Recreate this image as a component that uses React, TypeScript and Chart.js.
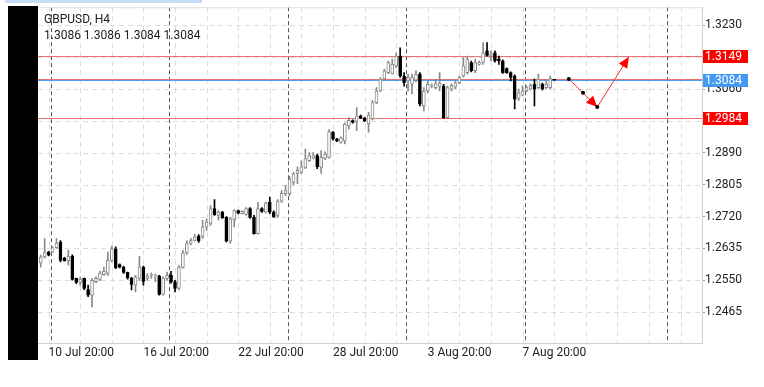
import React, { useEffect, useRef } from 'react';
import { Chart, registerables } from 'chart.js';

Chart.register(...registerables);

const symbolTitle = 'GBPUSD, H4';
const ohlcText = '1.3086 1.3086 1.3084 1.3084';

// H4 candles, index 0 = 10 Jul 12:00
const opens = [
  1.2596, 1.2612, 1.2625, 1.2625, 1.2637, 1.2652, 1.2609, 1.2602, 1.2614, 1.2555,
  1.2544, 1.2555, 1.2525, 1.2510, 1.2546, 1.2552, 1.2565, 1.2568, 1.2603, 1.2634,
  1.2592, 1.2585, 1.2571, 1.2556, 1.2537, 1.2555, 1.2585, 1.2555, 1.2563, 1.2562,
  1.2562, 1.2512, 1.2555, 1.2563, 1.2546, 1.2528, 1.2584, 1.2623, 1.2648, 1.2656,
  1.2668, 1.2667, 1.2692, 1.2702, 1.2741, 1.2723, 1.2731, 1.2718, 1.2654, 1.2712,
  1.2736, 1.2728, 1.2726, 1.2741, 1.2718, 1.2674, 1.2741, 1.2732, 1.2758, 1.2732,
  1.2723, 1.2761, 1.2781, 1.2781, 1.2811, 1.2835, 1.2838, 1.2851, 1.2869, 1.2876,
  1.2883, 1.2851, 1.2875, 1.2878, 1.2945, 1.2927, 1.2918, 1.2922, 1.2962, 1.2976,
  1.2974, 1.2989, 1.2983, 1.2968, 1.2980, 1.3024, 1.3055, 1.3087, 1.3104, 1.3101,
  1.3122, 1.3148, 1.3095, 1.3082, 1.3073, 1.3084, 1.3100, 1.3015, 1.3055, 1.3068,
  1.3064, 1.3068, 1.3068, 1.2984, 1.3060, 1.3066, 1.3077, 1.3095, 1.3104, 1.3131,
  1.3109, 1.3126, 1.3131, 1.3162, 1.3148, 1.3157, 1.3140, 1.3135, 1.3115, 1.3104,
  1.3095, 1.3035, 1.3044, 1.3055, 1.3060, 1.3073, 1.3064, 1.3073, 1.3064, 1.3064,
  1.3086,
];
const highs = [
  1.2617, 1.2661, 1.2627, 1.2639, 1.2661, 1.2656, 1.2611, 1.2630, 1.2618, 1.2556,
  1.2559, 1.2556, 1.2537, 1.2555, 1.2559, 1.2574, 1.2585, 1.2625, 1.2641, 1.2639,
  1.2594, 1.2588, 1.2572, 1.2558, 1.2563, 1.2614, 1.2588, 1.2568, 1.2570, 1.2567,
  1.2563, 1.2559, 1.2572, 1.2574, 1.2550, 1.2590, 1.2630, 1.2655, 1.2662, 1.2672,
  1.2672, 1.2710, 1.2714, 1.2749, 1.2765, 1.2736, 1.2734, 1.2720, 1.2718, 1.2738,
  1.2737, 1.2736, 1.2744, 1.2744, 1.2723, 1.2758, 1.2744, 1.2759, 1.2772, 1.2735,
  1.2765, 1.2789, 1.2803, 1.2827, 1.2838, 1.2853, 1.2869, 1.2900, 1.2891, 1.2891,
  1.2887, 1.2896, 1.2893, 1.2952, 1.2947, 1.2929, 1.2933, 1.2970, 1.2984, 1.2978,
  1.3011, 1.2991, 1.2985, 1.2998, 1.3030, 1.3064, 1.3091, 1.3113, 1.3135, 1.3140,
  1.3157, 1.3170, 1.3104, 1.3100, 1.3100, 1.3109, 1.3104, 1.3064, 1.3082, 1.3074,
  1.3086, 1.3104, 1.3073, 1.3068, 1.3074, 1.3082, 1.3095, 1.3144, 1.3148, 1.3135,
  1.3140, 1.3135, 1.3184, 1.3184, 1.3162, 1.3162, 1.3148, 1.3138, 1.3117, 1.3106,
  1.3098, 1.3060, 1.3069, 1.3068, 1.3074, 1.3087, 1.3100, 1.3076, 1.3086, 1.3095,
  1.3086,
];
const lows = [
  1.2585, 1.2609, 1.2615, 1.2624, 1.2635, 1.2599, 1.2601, 1.2590, 1.2550, 1.2541,
  1.2537, 1.2525, 1.2506, 1.2479, 1.2543, 1.2549, 1.2563, 1.2563, 1.2599, 1.2581,
  1.2583, 1.2568, 1.2553, 1.2524, 1.2519, 1.2550, 1.2537, 1.2550, 1.2555, 1.2546,
  1.2510, 1.2510, 1.2550, 1.2542, 1.2519, 1.2524, 1.2582, 1.2619, 1.2644, 1.2654,
  1.2651, 1.2661, 1.2683, 1.2696, 1.2723, 1.2711, 1.2715, 1.2652, 1.2648, 1.2692,
  1.2727, 1.2727, 1.2723, 1.2715, 1.2673, 1.2673, 1.2731, 1.2730, 1.2728, 1.2718,
  1.2718, 1.2758, 1.2776, 1.2776, 1.2805, 1.2808, 1.2834, 1.2848, 1.2867, 1.2874,
  1.2848, 1.2835, 1.2872, 1.2876, 1.2924, 1.2920, 1.2916, 1.2914, 1.2953, 1.2969,
  1.2949, 1.2981, 1.2973, 1.2945, 1.2978, 1.3021, 1.3053, 1.3084, 1.3101, 1.3100,
  1.3117, 1.3091, 1.3068, 1.3055, 1.3047, 1.3079, 1.3015, 1.3002, 1.3050, 1.3063,
  1.3061, 1.3055, 1.2982, 1.2982, 1.3055, 1.3061, 1.3074, 1.3092, 1.3100, 1.3106,
  1.3104, 1.3124, 1.3126, 1.3148, 1.3135, 1.3132, 1.3126, 1.3102, 1.3102, 1.3082,
  1.3007, 1.3029, 1.3042, 1.3053, 1.3058, 1.3015, 1.3061, 1.3058, 1.3061, 1.3060,
  1.3084,
];
const closes = [
  1.2612, 1.2624, 1.2617, 1.2637, 1.2649, 1.2603, 1.2602, 1.2614, 1.2552, 1.2544,
  1.2553, 1.2528, 1.2510, 1.2550, 1.2555, 1.2570, 1.2574, 1.2603, 1.2634, 1.2583,
  1.2585, 1.2571, 1.2556, 1.2539, 1.2559, 1.2585, 1.2547, 1.2561, 1.2565, 1.2563,
  1.2512, 1.2556, 1.2563, 1.2546, 1.2528, 1.2585, 1.2623, 1.2648, 1.2656, 1.2666,
  1.2655, 1.2692, 1.2705, 1.2741, 1.2725, 1.2732, 1.2717, 1.2654, 1.2714, 1.2736,
  1.2729, 1.2734, 1.2741, 1.2718, 1.2674, 1.2741, 1.2734, 1.2756, 1.2732, 1.2720,
  1.2761, 1.2782, 1.2789, 1.2819, 1.2834, 1.2843, 1.2853, 1.2875, 1.2883, 1.2883,
  1.2853, 1.2878, 1.2887, 1.2947, 1.2927, 1.2922, 1.2930, 1.2967, 1.2977, 1.2971,
  1.2989, 1.2983, 1.2976, 1.2991, 1.3024, 1.3055, 1.3087, 1.3109, 1.3131, 1.3126,
  1.3148, 1.3095, 1.3077, 1.3091, 1.3091, 1.3100, 1.3020, 1.3055, 1.3073, 1.3070,
  1.3075, 1.3076, 1.2984, 1.3064, 1.3070, 1.3077, 1.3091, 1.3122, 1.3140, 1.3109,
  1.3131, 1.3131, 1.3157, 1.3150, 1.3154, 1.3135, 1.3135, 1.3104, 1.3104, 1.3091,
  1.3033, 1.3051, 1.3055, 1.3064, 1.3070, 1.3060, 1.3087, 1.3060, 1.3073, 1.3088,
  1.3084,
];

const xTickIndex = [2, 26, 50, 74, 98, 122];
const xTickLabels = ['10 Jul 20:00', '16 Jul 20:00', '22 Jul 20:00', '28 Jul 20:00', '3 Aug 20:00', '7 Aug 20:00'];
const yTicks = [1.2465, 1.255, 1.2635, 1.272, 1.2805, 1.289, 1.2975, 1.306, 1.3145, 1.323];
const weekSeparators = [2.5, 32.5, 62.5, 92.5, 122.5, 158.5];
const gridStartIndex = 2;
const gridStepBars = 8;

const resistanceLevel = 1.3149;
const supportLevel = 1.2984;
const bidLevel = 1.3084;
const askLevel = 1.30865;

const projectionIndex = [133.7, 137.3, 140.9, 148.9];
const projectionPrice = [1.3087, 1.305, 1.3012, 1.3146];

const X_MIN = -0.684;
const X_MAX = 167.42;
const Y_MIN = 1.23826;
const Y_MAX = 1.32786;

const FONT = 'Roboto, "Noto Sans", sans-serif';
const BULL_EDGE = '#8a8a8a';

const isBull = (i: number) => closes[i] >= opens[i];

function arrowHead(ctx: CanvasRenderingContext2D, fx: number, fy: number, tx: number, ty: number, len: number, half: number) {
  const a = Math.atan2(ty - fy, tx - fx);
  const bx = tx - Math.cos(a) * len;
  const by = ty - Math.sin(a) * len;
  ctx.beginPath();
  ctx.moveTo(tx, ty);
  ctx.lineTo(bx + Math.sin(a) * half, by - Math.cos(a) * half);
  ctx.lineTo(bx - Math.sin(a) * half, by + Math.cos(a) * half);
  ctx.closePath();
  ctx.fill();
}

const overlayPlugin = {
  id: 'overlay',
  beforeDraw(chart: any) {
    const { ctx } = chart;
    ctx.save();
    ctx.fillStyle = '#ffffff';
    ctx.fillRect(0, 0, chart.width, chart.height);
    ctx.fillStyle = '#c9dcf7';
    ctx.fillRect(5, 0, 197, 3);
    ctx.fillStyle = '#000000';
    ctx.fillRect(8, 6, 30, 354);
    ctx.restore();
  },
  beforeDatasetsDraw(chart: any) {
    const { ctx, chartArea: a, scales } = chart;
    const x = scales.x;
    const y = scales.y;
    ctx.save();
    ctx.beginPath();
    ctx.rect(a.left, a.top, a.right - a.left, a.bottom - a.top);
    ctx.clip();
    ctx.lineWidth = 1;
    // light dashed grid
    ctx.strokeStyle = '#dcdcdc';
    ctx.setLineDash([5, 4]);
    for (const v of yTicks) {
      const py = Math.round(y.getPixelForValue(v)) + 0.5;
      ctx.beginPath();
      ctx.moveTo(a.left, py);
      ctx.lineTo(a.right, py);
      ctx.stroke();
    }
    for (let k = gridStartIndex; k <= X_MAX; k += gridStepBars) {
      const px = Math.round(x.getPixelForValue(k)) + 0.5;
      ctx.beginPath();
      ctx.moveTo(px, a.top);
      ctx.lineTo(px, a.bottom);
      ctx.stroke();
    }
    // week separators
    ctx.strokeStyle = '#555555';
    ctx.setLineDash([4, 3]);
    for (const s of weekSeparators) {
      const px = Math.round(x.getPixelForValue(s)) + 0.5;
      ctx.beginPath();
      ctx.moveTo(px, a.top);
      ctx.lineTo(px, a.bottom);
      ctx.stroke();
    }
    ctx.setLineDash([]);
    // top border
    ctx.strokeStyle = '#d6d6d6';
    ctx.beginPath();
    ctx.moveTo(a.left, a.top + 0.5);
    ctx.lineTo(a.right, a.top + 0.5);
    ctx.stroke();
    // levels
    const hline = (v: number, color: string) => {
      const py = Math.round(y.getPixelForValue(v)) + 0.5;
      ctx.strokeStyle = color;
      ctx.beginPath();
      ctx.moveTo(a.left, py);
      ctx.lineTo(a.right, py);
      ctx.stroke();
    };
    hline(resistanceLevel, '#ee7070');
    hline(supportLevel, '#ee7070');
    hline(askLevel, '#ee7070');
    hline(bidLevel, '#4a9ef5');
    ctx.restore();
  },
  afterDatasetsDraw(chart: any) {
    const { ctx, scales } = chart;
    const x = scales.x;
    const y = scales.y;
    const pts = projectionIndex.map((v, i) => [x.getPixelForValue(v), y.getPixelForValue(projectionPrice[i])]);
    ctx.save();
    ctx.strokeStyle = '#f03030';
    ctx.fillStyle = '#ff0000';
    ctx.lineWidth = 1;
    for (let i = 0; i < pts.length - 1; i++) {
      ctx.beginPath();
      ctx.moveTo(pts[i][0], pts[i][1]);
      ctx.lineTo(pts[i + 1][0], pts[i + 1][1]);
      ctx.stroke();
    }
    arrowHead(ctx, pts[1][0], pts[1][1], pts[2][0], pts[2][1], 11, 5);
    arrowHead(ctx, pts[2][0], pts[2][1], pts[3][0], pts[3][1], 11, 5);
    ctx.fillStyle = '#000000';
    for (let i = 0; i < 3; i++) {
      ctx.beginPath();
      ctx.arc(pts[i][0], pts[i][1], 2, 0, Math.PI * 2);
      ctx.fill();
    }
    ctx.restore();
  },
  afterDraw(chart: any) {
    const { ctx, chartArea: a, scales } = chart;
    const y = scales.y;
    ctx.save();
    ctx.font = `12px ${FONT}`;
    ctx.textBaseline = 'middle';
    ctx.textAlign = 'left';
    const tag = (v: number, bg: string) => {
      const py = Math.round(y.getPixelForValue(v));
      ctx.fillStyle = bg;
      ctx.fillRect(a.right + 1, py - 6, 45, 13);
      ctx.fillStyle = '#ffffff';
      ctx.fillText(v.toFixed(4), a.right + 3, py + 0.5);
    };
    tag(resistanceLevel, '#ff0000');
    tag(supportLevel, '#ff0000');
    tag(bidLevel, '#4499f2');
    ctx.fillStyle = '#222222';
    ctx.textBaseline = 'alphabetic';
    ctx.fillText(symbolTitle, 44, 23);
    ctx.fillText(ohlcText, 44, 39);
    ctx.restore();
  },
};

export default function App() {
  const ref = useRef<HTMLCanvasElement>(null);
  useEffect(() => {
    if (!ref.current) return;
    const idx = opens.map((_, i) => i);
    const chart = new Chart(ref.current, {
      type: 'bar',
      data: {
        datasets: [
          {
            label: 'wicks',
            data: idx.map((i) => ({ x: i, y: [lows[i], highs[i]] })) as any,
            backgroundColor: (c: any) => (isBull(c.dataIndex) ? BULL_EDGE : '#000000'),
            borderWidth: 0,
            barThickness: 1,
            grouped: false,
            order: 2,
          } as any,
          {
            label: 'bodies',
            data: idx.map((i) => ({ x: i, y: [opens[i], closes[i]] })) as any,
            backgroundColor: (c: any) => (isBull(c.dataIndex) ? '#ffffff' : '#000000'),
            borderColor: (c: any) => (isBull(c.dataIndex) ? BULL_EDGE : '#000000'),
            borderWidth: 1,
            borderSkipped: false,
            barThickness: 3,
            grouped: false,
            order: 1,
          } as any,
        ],
      },
      options: {
        responsive: false,
        animation: false,
        devicePixelRatio: 1,
        events: [],
        layout: { padding: { left: 38, top: 6, right: 0, bottom: 0 } },
        plugins: { legend: { display: false }, tooltip: { enabled: false } },
        scales: {
          x: {
            type: 'linear',
            min: X_MIN,
            max: X_MAX,
            offset: false,
            grid: { display: false, drawTicks: false, offset: false } as any,
            border: { display: true, color: '#cfcfcf' },
            ticks: {
              align: 'start',
              padding: 3,
              color: '#222222',
              maxRotation: 0,
              autoSkip: false,
              font: { family: FONT, size: 12 },
              callback: (v: any) => {
                const k = xTickIndex.indexOf(Number(v));
                return k >= 0 ? xTickLabels[k] : '';
              },
            },
            afterBuildTicks: (s: any) => {
              s.ticks = xTickIndex.map((v) => ({ value: v }));
            },
            afterFit: (s: any) => {
              s.height = 44;
            },
          } as any,
          y: {
            type: 'linear',
            position: 'right',
            min: Y_MIN,
            max: Y_MAX,
            grid: { display: true, drawOnChartArea: false, drawTicks: true, tickLength: 3, color: '#9a9a9a' },
            border: { display: true, color: '#cfcfcf' },
            ticks: {
              padding: 0,
              color: '#222222',
              font: { family: FONT, size: 12 },
              callback: (v: any) => Number(v).toFixed(4),
            },
            afterBuildTicks: (s: any) => {
              s.ticks = yTicks.map((v) => ({ value: v }));
            },
            afterFit: (s: any) => {
              s.width = 62;
            },
          } as any,
        },
      },
      plugins: [overlayPlugin],
    });
    return () => chart.destroy();
  }, []);
  return (
    <div style={{ position: 'fixed', left: 0, top: 0, width: 764, height: 387, background: '#ffffff' }}>
      <canvas ref={ref} width={764} height={387} style={{ display: 'block', width: 764, height: 387 }} />
    </div>
  );
}
